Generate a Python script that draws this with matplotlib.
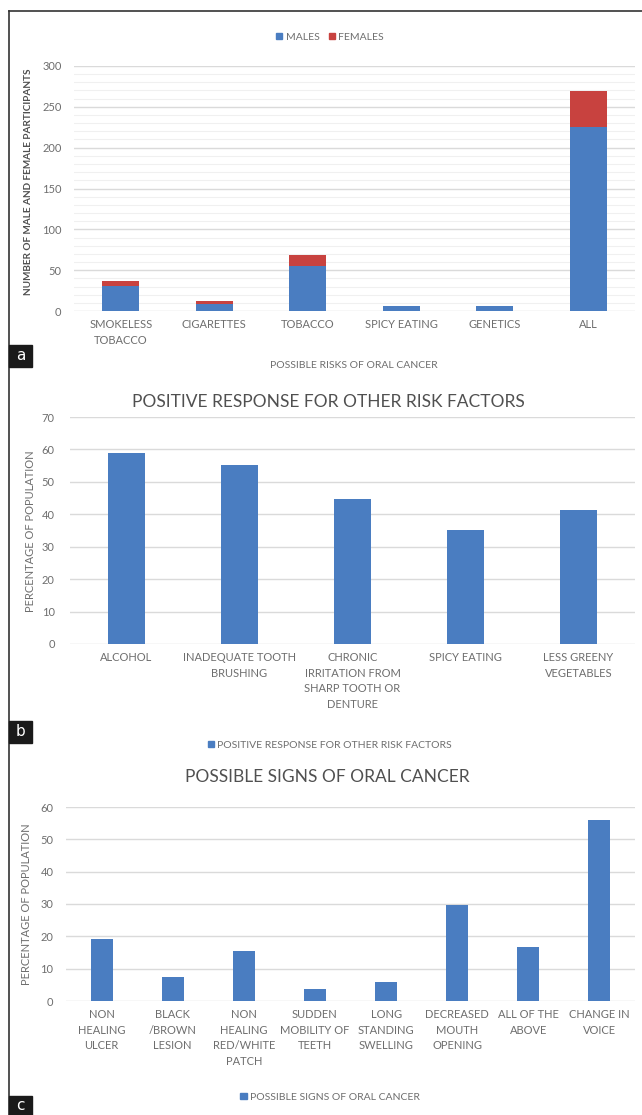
import numpy as np
import matplotlib.pyplot as plt
from matplotlib.patches import Rectangle, Patch
from matplotlib.lines import Line2D

plt.rcParams["font.family"] = ["Lato", "DejaVu Sans"]

W, H = 642, 1115

# panel a: risks of oral cancer, counts by sex
risk_labels = ["SMOKELESS\nTOBACCO", "CIGARETTES", "TOBACCO", "SPICY EATING",
               "GENETICS", "ALL"]
males = [31, 8, 55, 6, 6, 225]
females = [6, 4, 13, 0, 0, 45]

# panel b: other risk factors (% of population)
other_labels = ["ALCOHOL", "INADEQUATE TOOTH\nBRUSHING",
                "CHRONIC\nIRRITATION FROM\nSHARP TOOTH OR\nDENTURE",
                "SPICY EATING", "LESS GREENY\nVEGETABLES"]
other_pct = [59.0, 55.3, 44.6, 35.2, 41.3]

# panel c: signs of oral cancer (% of population)
sign_labels = ["NON\nHEALING\nULCER", "BLACK\n/BROWN\nLESION",
               "NON\nHEALING\nRED/WHITE\nPATCH", "SUDDEN\nMOBILITY OF\nTEETH",
               "LONG\nSTANDING\nSWELLING", "DECREASED\nMOUTH\nOPENING",
               "ALL OF THE\nABOVE", "CHANGE IN\nVOICE"]
sign_pct = [19.1, 7.4, 15.6, 3.8, 5.9, 29.8, 16.8, 55.9]

BLUE = "#4a7dc1"
RED = "#c8423f"
TEXT = "#6e6e6e"
DARK = "#505050"
GRID = "#dadada"

fig = plt.figure(figsize=(W / 100, H / 100), dpi=100)


def px_axes(left, top, right, bottom):
    return fig.add_axes([left / W, 1 - bottom / H, (right - left) / W,
                         (bottom - top) / H])


def fx(x):
    return x / W


def fy(y):
    return 1 - y / H


def style(ax, ymax, step, ypad):
    ax.set_ylim(0, ymax)
    ax.set_yticks(np.arange(0, ymax + 1, step))
    ax.grid(axis="y", color=GRID, lw=1)
    ax.set_axisbelow(True)
    for s in ax.spines.values():
        s.set_visible(False)
    ax.tick_params(axis="both", which="both", length=0, colors=TEXT,
                   labelsize=8)
    ax.tick_params(axis="y", pad=ypad)
    ax.tick_params(axis="x", pad=6)
    for lab in ax.get_xticklabels():
        lab.set_linespacing(1.5)


def tag(letter, top, bottom):
    fig.add_artist(Rectangle((fx(9), fy(bottom)), fx(23), fy(top) - fy(bottom),
                             transform=fig.transFigure, color="#1a1a1a",
                             zorder=5))
    fig.text(fx(20.5), fy((top + bottom) / 2), letter, color="white",
             fontsize=11, ha="center", va="center", family="DejaVu Sans",
             zorder=6)


# frame
fig.add_artist(Line2D([fx(9), fx(9)], [fy(11), 0], transform=fig.transFigure,
                      color="#333333", lw=1.2))
fig.add_artist(Line2D([fx(9), 1], [fy(11), fy(11)], transform=fig.transFigure,
                      color="#333333", lw=1.2))

# --- a ---
ax1 = px_axes(74, 66, 635, 311)
x1 = np.arange(len(risk_labels))
b_m = ax1.bar(x1, males, width=0.4, color=BLUE)
b_f = ax1.bar(x1, females, width=0.4, bottom=males, color=RED)
ax1.set_xlim(-0.5, len(risk_labels) - 0.5)
ax1.set_xticks(x1)
ax1.set_xticklabels(risk_labels)
ax1.set_yticks(np.arange(0, 301, 10), minor=True)
ax1.grid(axis="y", which="minor", color="#f0f0f0", lw=0.8)
style(ax1, 300, 50, 9)
fig.text(fx(29), fy(182), "NUMBER OF MALE AND FEMALE PARTICIPANTS",
         rotation=90, ha="center", va="center", fontsize=7.2,
         fontweight="bold", color=DARK)
fig.text(fx(354), fy(366), "POSSIBLE RISKS OF ORAL CANCER", ha="center",
         va="center", fontsize=7.5, color=TEXT)
fig.legend([Patch(color=BLUE), Patch(color=RED)], ["MALES", "FEMALES"],
           loc="center", bbox_to_anchor=(fx(330), fy(37)), ncol=2,
           frameon=False, fontsize=7.5, labelcolor=TEXT, handlelength=0.6,
           handleheight=0.6, handletextpad=0.3, columnspacing=0.9)
tag("a", 345, 367)

# --- b ---
ax2 = px_axes(70, 417, 635, 644)
x2 = np.arange(len(other_labels))
ax2.bar(x2, other_pct, width=0.32, color=BLUE)
ax2.set_xlim(-0.5, len(other_labels) - 0.5)
ax2.set_xticks(x2)
ax2.set_xticklabels(other_labels)
style(ax2, 70, 10, 11)
fig.text(fx(328), fy(402), "POSITIVE RESPONSE FOR OTHER RISK FACTORS",
         ha="center", va="center", fontsize=12.5, color=DARK)
fig.text(fx(31), fy(531), "PERCENTAGE OF POPULATION", rotation=90,
         ha="center", va="center", fontsize=8, color=TEXT)
fig.legend([Patch(color=BLUE)], ["POSITIVE RESPONSE FOR OTHER RISK FACTORS"],
           loc="center", bbox_to_anchor=(fx(330), fy(745)), frameon=False,
           fontsize=7.5, labelcolor=TEXT, handlelength=0.6, handleheight=0.6,
           handletextpad=0.3)
tag("b", 721, 743)

# --- c ---
ax3 = px_axes(66, 807, 635, 1001)
x3 = np.arange(len(sign_labels))
ax3.bar(x3, sign_pct, width=0.31, color=BLUE)
ax3.set_xlim(-0.5, len(sign_labels) - 0.5)
ax3.set_xticks(x3)
ax3.set_xticklabels(sign_labels)
style(ax3, 60, 10, 9)
fig.text(fx(327), fy(777), "POSSIBLE SIGNS OF ORAL CANCER",
         ha="center", va="center", fontsize=12.5, color=DARK)
fig.text(fx(27), fy(904), "PERCENTAGE OF POPULATION", rotation=90,
         ha="center", va="center", fontsize=8, color=TEXT)
fig.legend([Patch(color=BLUE)], ["POSSIBLE SIGNS OF ORAL CANCER"],
           loc="center", bbox_to_anchor=(fx(330), fy(1097)), frameon=False,
           fontsize=7.5, labelcolor=TEXT, handlelength=0.6, handleheight=0.6,
           handletextpad=0.3)
tag("c", 1096, 1115)

fig.savefig("out.png", dpi=100)
